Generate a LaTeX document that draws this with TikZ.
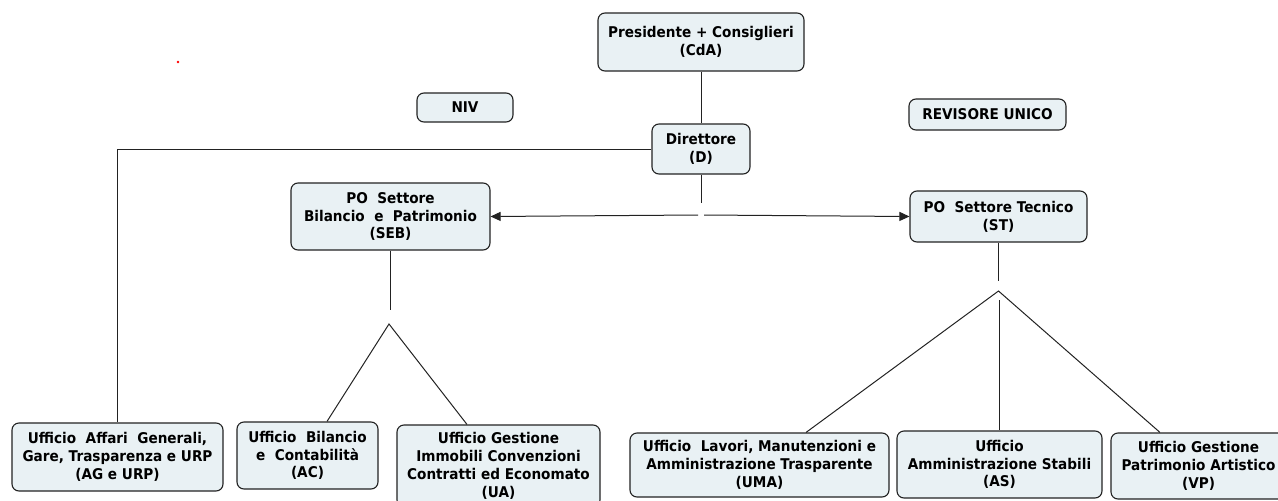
\documentclass[tikz,border=0pt]{standalone}
\usepackage{fontspec}
\setmainfont{DejaVu Sans}[BoldFeatures={FakeStretch=0.92}]
\usetikzlibrary{arrows.meta}
\definecolor{boxfill}{HTML}{E9F1F4}
\definecolor{boxline}{HTML}{222222}
\begin{document}
\begin{tikzpicture}[x=1pt,y=-1pt,
  box/.style={draw=boxline, fill=boxfill, line width=1.1pt, rounded corners=7pt,
    align=center, font=\bfseries\fontsize{14.8}{17.8}\selectfont, inner sep=0pt},
  conn/.style={draw=boxline, line width=1pt},
  tipped/.style={-{Triangle[length=10pt,width=9pt]}}]
\useasboundingbox (0,0) rectangle (1278,501);

\node[circle, fill=red, inner sep=0pt, minimum size=2.6pt] (dot) at (178,62) {};

\node[box, minimum width=206pt, minimum height=58pt] (cda) at (701,42) {Presidente + Consiglieri\\(CdA)};
\node[box, minimum width=96pt, minimum height=29pt] (niv) at (465,107.5) {NIV};
\node[box, minimum width=157pt, minimum height=31pt] (rev) at (987.5,114.5) {REVISORE UNICO};
\node[box, minimum width=98pt, minimum height=50pt] (dir) at (701,149) {Direttore\\(D)};
\node[box, minimum width=199pt, minimum height=67pt] (seb) at (390.5,216.5) {PO\ \ Settore\\Bilancio\ \ e\ \ Patrimonio\\(SEB)};
\node[box, minimum width=177pt, minimum height=51pt] (st) at (998.5,216.5) {PO\ \ Settore Tecnico\\(ST)};

\node[box, minimum width=211pt, minimum height=68pt] (ag) at (117.5,457) {Ufficio\ \ Affari\ \ Generali,\\Gare, Trasparenza e URP\\(AG e URP)};
\node[box, minimum width=141pt, minimum height=67pt] (ac) at (307.5,455.5) {Ufficio\ \ Bilancio\\e\ \ Contabilità\\(AC)};
\node[box, minimum width=203pt, minimum height=82pt] (ua) at (498.5,466) {Ufficio Gestione\\Immobili Convenzioni\\Contratti ed Economato\\(UA)};
\node[box, minimum width=259pt, minimum height=64pt] (uma) at (759.5,465) {Ufficio\ \ Lavori, Manutenzioni e\\Amministrazione Trasparente\\(UMA)};
\node[box, minimum width=205pt, minimum height=67pt] (as) at (999.5,464.5) {Ufficio\\Amministrazione Stabili\\(AS)};
\node[box, minimum width=175pt, minimum height=66pt] (vp) at (1198.5,466) {Ufficio Gestione\\Patrimonio Artistico\\(VP)};

\coordinate (dstop) at (701,203);
\coordinate (hgl) at (698,215);
\coordinate (hgr) at (704,215);
\coordinate (sebstop) at (390.5,310);
\coordinate (sebapex) at (389,324);
\coordinate (ststop) at (998.5,281);
\coordinate (stapex) at (998.5,291);
\coordinate (stmid) at (999.5,300);

\draw[conn] (cda) -- (dir);
\draw[conn] (dir.west) -| (ag.north);
\draw[conn] (dir.south) -- (dstop);
\draw[conn,tipped] (hgl) -- (seb.east);
\draw[conn,tipped] (hgr) -- (st.west);

\draw[conn] (seb.south) -- (sebstop);
\draw[conn] ([xshift=19.5pt]ac.north) -- (sebapex) -- ([xshift=-31.5pt]ua.north);

\draw[conn] (st.south) -- (ststop);
\draw[conn] ([xshift=46.5pt]uma.north) -- (stapex) -- ([xshift=-38.5pt]vp.north);
\draw[conn] (stmid) -- (as.north);
\end{tikzpicture}
\end{document}
